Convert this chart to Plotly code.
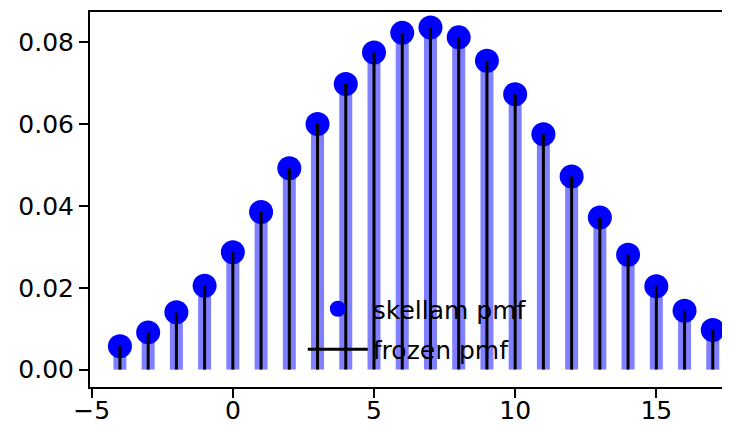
import plotly.graph_objects as go

# Skellam pmf values (mu1=15, mu2=8)
x_vals = list(range(-4, 18))
pmf_vals = [
    0.0057, 0.0091, 0.0140, 0.0205, 0.0287, 0.0385, 0.0492, 0.0600,
    0.0698, 0.0775, 0.0823, 0.0836, 0.0812, 0.0755, 0.0673, 0.0575,
    0.0472, 0.0372, 0.0281, 0.0204, 0.0144, 0.0097,
]
x_ticks = [-5, 0, 5, 10, 15]
y_ticks = [0.00, 0.02, 0.04, 0.06, 0.08]


def stems(xs, ys):
    """Turn points into vertical segments from 0, separated by gaps."""
    sx, sy = [], []
    for x, y in zip(xs, ys):
        sx += [x, x, None]
        sy += [0, y, None]
    return sx, sy


sx, sy = stems(x_vals, pmf_vals)

fig = go.Figure()

# wide translucent blue stems
fig.add_trace(go.Scatter(
    x=sx, y=sy, mode="lines",
    line=dict(color="rgba(0,0,255,0.5)", width=13),
    showlegend=False, hoverinfo="skip",
))

# markers on top of the wide stems
fig.add_trace(go.Scatter(
    x=x_vals, y=pmf_vals, mode="markers",
    marker=dict(color="#0000ff", size=24),
    name="skellam pmf", legendgroup="a",
))

# thin black frozen pmf stems
fig.add_trace(go.Scatter(
    x=sx, y=sy, mode="lines",
    line=dict(color="black", width=3),
    name="frozen pmf", legendgroup="b",
))

axis_common = dict(
    showgrid=False, zeroline=False, automargin=False,
    showline=True, linecolor="black", linewidth=2,
    ticks="outside", ticklen=9, tickwidth=2, tickcolor="black",
    tickfont=dict(family="DejaVu Sans", size=25, color="black"),
)

# page body has an 8px margin, so the figure is sized to the visible window
fig.update_layout(
    width=722, height=417,
    margin=dict(l=82, r=0, t=4, b=38),
    plot_bgcolor="white", paper_bgcolor="white",
    xaxis=dict(range=[-5.06, 17.61], tickvals=x_ticks, mirror=True,
               ticklabelstandoff=-9, **axis_common),
    yaxis=dict(range=[-0.00425, 0.0874], tickvals=y_ticks, tickformat=".2f",
               **axis_common),
    legend=dict(
        x=0.3325, y=0.2693, xanchor="left", yanchor="top",
        bgcolor="rgba(0,0,0,0)",
        font=dict(family="DejaVu Sans", size=25, color="black"),
        tracegroupgap=5,
        itemwidth=60,
    ),
    showlegend=True,
)

fig.write_html("out.html")
